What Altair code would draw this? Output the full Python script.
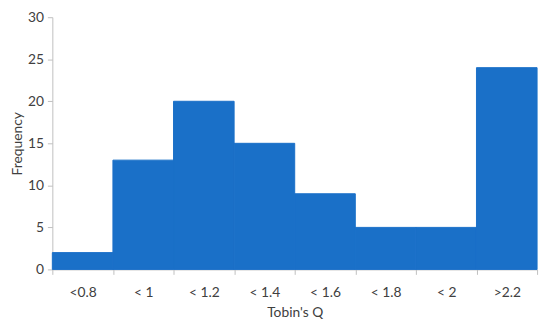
import altair as alt
import pandas as pd

categories = ["<0.8", "< 1", "< 1.2", "< 1.4", "< 1.6", "< 1.8", "< 2", ">2.2"]
frequency = [2, 13, 20, 15, 9, 5, 5, 24]

df = pd.DataFrame({"bin": categories, "freq": frequency})

font = "Lato"
axis_color = "#BFBFBF"
text_color = "#404040"

chart = alt.Chart(df).mark_bar(color="#1A70C8", stroke="#1A70C8", strokeWidth=1).encode(
    x=alt.X("bin:N", sort=categories,
            scale=alt.Scale(paddingInner=0, paddingOuter=0),
            axis=alt.Axis(title="Tobin's Q", labelAngle=0, tickBand="extent",
                          domainColor=axis_color, tickColor=axis_color, tickSize=5,
                          labelFont=font, labelFontSize=14, labelColor=text_color,
                          labelPadding=11,
                          titleFont=font, titleFontSize=14, titleFontWeight="normal",
                          titleColor=text_color, titlePadding=7)),
    y=alt.Y("freq:Q", scale=alt.Scale(domain=[0, 30]),
            axis=alt.Axis(title="Frequency", values=[0, 5, 10, 15, 20, 25, 30], grid=False,
                          domainColor=axis_color, tickColor=axis_color, tickSize=5,
                          labelFont=font, labelFontSize=14, labelColor=text_color,
                          labelPadding=4,
                          titleFont=font, titleFontSize=14, titleFontWeight="normal",
                          titleColor=text_color, titlePadding=3)),
).properties(
    width=492, height=256,
    autosize=alt.AutoSizeParams(type="none"),
    padding={"left": 45, "top": 7, "right": 5, "bottom": 50},
).configure_view(stroke=None)

chart.save("out.html", embed_options={"renderer": "svg", "actions": False})
